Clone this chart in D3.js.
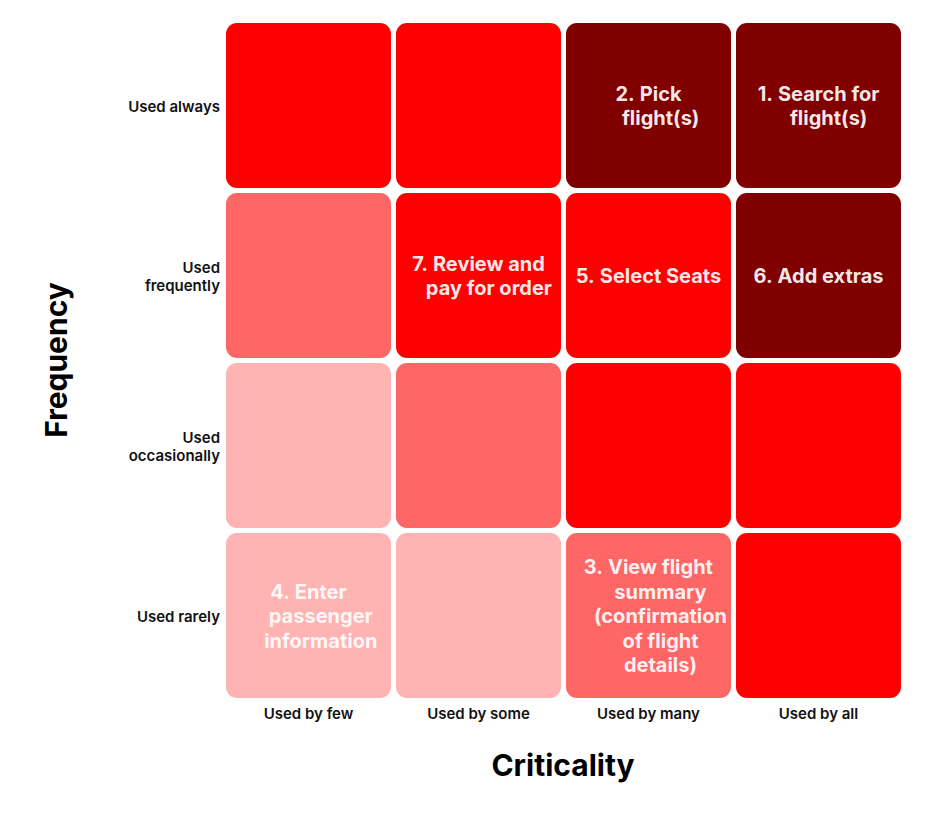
<!DOCTYPE html>
<html><head><meta charset="utf-8">
<script src="https://cdn.jsdelivr.net/npm/d3@7"></script>
<style>body{margin:0;background:#fff;} svg{display:block;font-family:Inter,"Noto Sans",sans-serif;}</style>
</head><body>
<svg id="chart" width="925" height="824"></svg>
<script>
const criticality = ["Used by few", "Used by some", "Used by many", "Used by all"];
const frequency = ["Used always", "Used frequently", "Used occasionally", "Used rarely"];
const frequencyLines = [["Used always"], ["Used", "frequently"], ["Used", "occasionally"], ["Used rarely"]];
// level per cell, rows = frequency (top to bottom), cols = criticality
const levels = [
  [3, 3, 4, 4],
  [2, 3, 3, 4],
  [1, 2, 3, 3],
  [1, 1, 2, 3]
];
const levelColors = ["#ffb3b3", "#ff6666", "#ff0000", "#800000"];
// tasks: number, body lines, frequency, criticality
const tasks = [
  {num: "1.", lines: ["Search for", "flight(s)"], freq: "Used always", crit: "Used by all"},
  {num: "2.", lines: ["Pick", "flight(s)"], freq: "Used always", crit: "Used by many"},
  {num: "3.", lines: ["View flight", "summary", "(confirmation", "of flight", "details)"], freq: "Used rarely", crit: "Used by many"},
  {num: "4.", lines: ["Enter", "passenger", "information"], freq: "Used rarely", crit: "Used by few"},
  {num: "5.", lines: ["Select Seats"], freq: "Used frequently", crit: "Used by many"},
  {num: "6.", lines: ["Add extras"], freq: "Used frequently", crit: "Used by all"},
  {num: "7.", lines: ["Review and", "pay for order"], freq: "Used frequently", crit: "Used by some"}
];

const svg = d3.select("#chart");
const x = d3.scaleBand().domain(criticality).range([223.5, 903.5]).paddingInner(5/170).paddingOuter(5/340);
const y = d3.scaleBand().domain(frequency).range([20.5, 700.5]).paddingInner(5/170).paddingOuter(5/340);

const color = d3.scaleOrdinal().domain([1,2,3,4]).range(levelColors);

const cells = [];
frequency.forEach((f, i) => criticality.forEach((c, j) => cells.push({f, c, v: levels[i][j]})));

svg.append("g").selectAll("rect").data(cells).join("rect")
  .attr("x", d => x(d.c)).attr("y", d => y(d.f))
  .attr("width", x.bandwidth()).attr("height", y.bandwidth())
  .attr("rx", 11).attr("ry", 11)
  .attr("fill", d => color(d.v));

// row labels
const rowG = svg.append("g");
frequency.forEach((f, i) => {
  const ls = frequencyLines[i];
  const cy = y(f) + y.bandwidth()/2;
  const lh = 18;
  const t = rowG.append("text").attr("text-anchor", "end").attr("font-size", 15).attr("font-weight", 600).attr("fill", "#111");
  ls.forEach((l, k) => {
    t.append("tspan").attr("x", 220).attr("y", cy + (k - (ls.length-1)/2)*lh + 6.5).text(l);
  });
});

// column labels
svg.append("g").selectAll("text").data(criticality).join("text")
  .attr("x", d => x(d) + x.bandwidth()/2).attr("y", 719)
  .attr("text-anchor", "middle").attr("font-size", 15).attr("font-weight", 600).attr("fill", "#111")
  .text(d => d);

// axis titles
svg.append("text").attr("x", 563).attr("y", 776).attr("text-anchor", "middle")
  .attr("font-size", 30).attr("font-weight", 700).attr("fill", "#000").text("Criticality");
svg.append("text").attr("transform", "translate(67,360) rotate(-90)").attr("text-anchor", "middle")
  .attr("font-size", 30).attr("font-weight", 700).attr("fill", "#000").text("Frequency");

// task labels
const tg = svg.append("g");
tasks.forEach(tk => {
  const cx = x(tk.crit) + x.bandwidth()/2;
  const cy = y(tk.freq) + y.bandwidth()/2;
  const lh = 24.5;
  const g = tg.append("g").attr("font-size", 20).attr("font-weight", 700).attr("fill", "#fff").attr("fill-opacity", 0.93);
  const mk = g.append("text").text(tk.num + " ");
  const mw = mk.node().getComputedTextLength() + 5;
  const bodies = tk.lines.map((l, k) => g.append("text").attr("text-anchor", "middle").text(l));
  const bw = d3.max(bodies, b => b.node().getComputedTextLength());
  let bc = cx + mw/2;
  const right = x(tk.crit) + x.bandwidth() - 4;
  if (bc + bw/2 > right) bc = right - bw/2;
  bodies.forEach((b, k) => {
    b.attr("x", bc).attr("y", cy + (k - (tk.lines.length-1)/2)*lh + 7.5);
  });
  const firstW = bodies[0].node().getComputedTextLength();
  mk.attr("x", bc - firstW/2 - mw).attr("y", cy + (0 - (tk.lines.length-1)/2)*lh + 7.5);
});
</script>
</body></html>
